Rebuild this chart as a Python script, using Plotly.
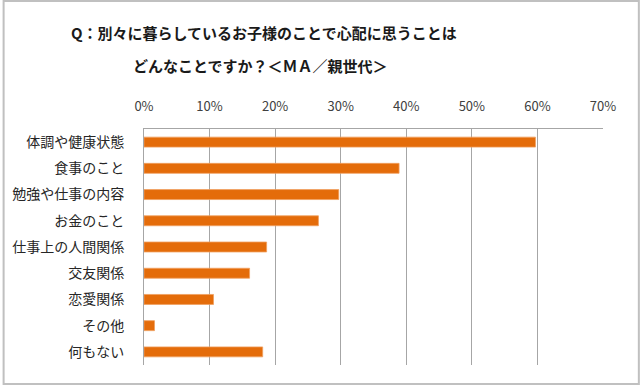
import plotly.graph_objects as go

categories = ["体調や健康状態", "食事のこと", "勉強や仕事の内容", "お金のこと",
              "仕事上の人間関係", "交友関係", "恋愛関係", "その他", "何もない"]
values = [59.7, 38.9, 29.7, 26.6, 18.7, 16.1, 10.6, 1.6, 18.1]
x_ticks = [0, 10, 20, 30, 40, 50, 60, 70]
x_tick_labels = ["0%", "10%", "20%", "30%", "40%", "50%", "60%", "70%"]
title_line1 = "Q：別々に暮らしているお子様のことで心配に思うことは"
title_line2 = "どんなことですか？＜ＭＡ／親世代＞"

W, H = 640, 385
ML, MR, MT, MB = 142, 37, 129, 20
PW, PH = W - ML - MR, H - MT - MB

def px_x(x):
    return (x - ML) / PW

def px_y(y):
    return (H - MB - y) / PH

font = "Noto Sans CJK JP"

fig = go.Figure(go.Bar(
    x=values, y=categories, orientation="h",
    marker=dict(color="#E46C0A", line=dict(color="#F0A060", width=0.8)),
    hoverinfo="x+y",
))

fig.update_layout(
    width=W, height=H,
    margin=dict(l=ML, r=MR, t=MT, b=MB),
    paper_bgcolor="white", plot_bgcolor="white",
    bargap=0.62,
    showlegend=False,
    font=dict(family=font, color="#404040"),
    xaxis=dict(
        side="top", range=[0, 70], tickvals=x_ticks, ticktext=x_tick_labels,
        showgrid=True, gridcolor="#A6A6A6", gridwidth=1,
        showline=True, linecolor="#A6A6A6", linewidth=1, mirror=False,
        zeroline=False, ticks="", ticklabelstandoff=12,
        tickfont=dict(size=13, color="#404040", family=font),
        fixedrange=True,
    ),
    yaxis=dict(
        autorange="reversed", showgrid=False,
        showline=True, linecolor="#A6A6A6", linewidth=1,
        ticks="", ticklabelstandoff=16,
        tickfont=dict(size=14, color="#262626", family=font),
        fixedrange=True,
    ),
    annotations=[
        dict(text="<b>" + title_line1 + "</b>", x=px_x(263), y=px_y(32),
             xref="paper", yref="paper", showarrow=False,
             xanchor="center", yanchor="middle",
             font=dict(size=15, color="#1a1a1a", family=font)),
        dict(text="<b>" + title_line2 + "</b>", x=px_x(259), y=px_y(65),
             xref="paper", yref="paper", showarrow=False,
             xanchor="center", yanchor="middle",
             font=dict(size=15, color="#1a1a1a", family=font)),
    ],
    shapes=[
        dict(type="rect", xref="paper", yref="paper",
             x0=px_x(1), x1=px_x(639), y0=px_y(384), y1=px_y(1),
             line=dict(color="#C0C0C0", width=2), fillcolor="rgba(0,0,0,0)",
             layer="above"),
    ],
)

fig.write_html("out.html", config={"displayModeBar": False},
               post_script="document.body.style.margin='0';document.body.style.overflow='hidden';")
